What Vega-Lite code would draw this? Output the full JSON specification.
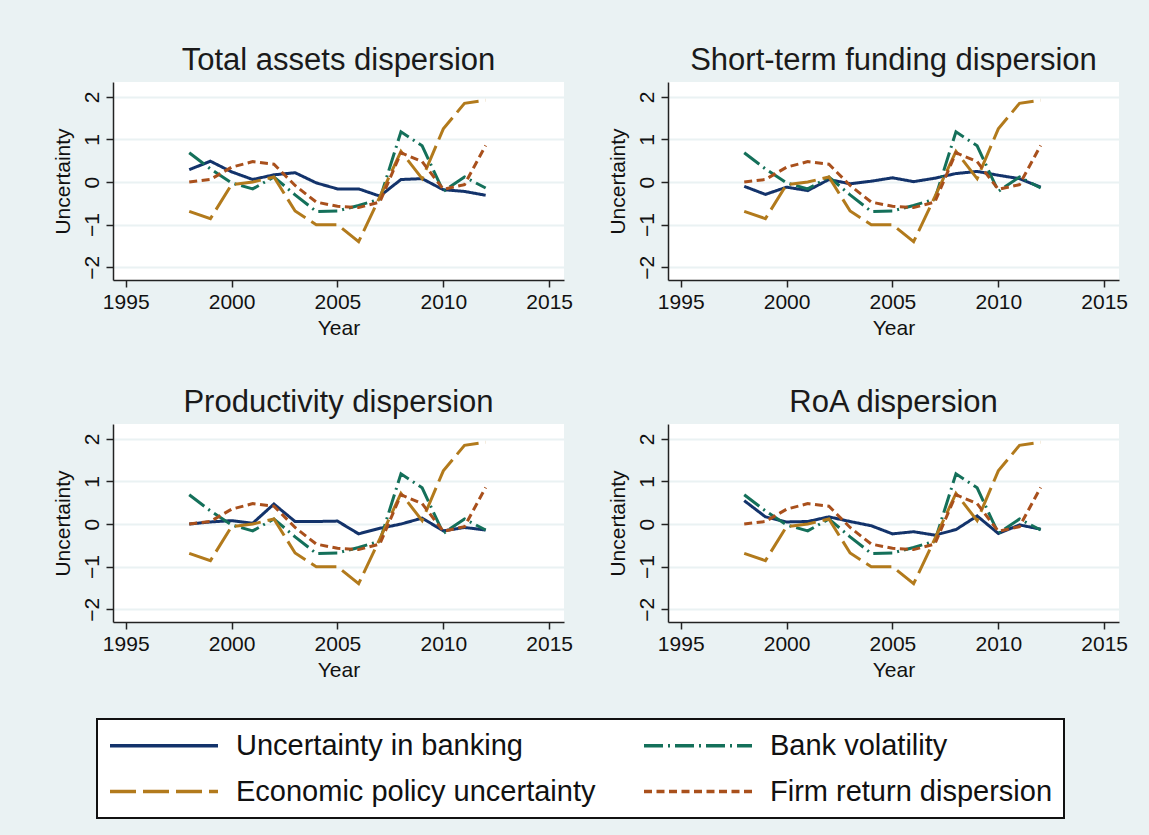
{
  "$schema": "https://vega.github.io/schema/vega-lite/v6.json",
  "padding": {"left": 52, "top": 45, "right": 30, "bottom": 22},
  "datasets": {
    "common": [
      {"series": "Bank volatility", "year": 1998, "value": 0.69},
      {"series": "Bank volatility", "year": 1999, "value": 0.31},
      {"series": "Bank volatility", "year": 2000, "value": -0.02},
      {"series": "Bank volatility", "year": 2001, "value": -0.16},
      {"series": "Bank volatility", "year": 2002, "value": 0.12},
      {"series": "Bank volatility", "year": 2003, "value": -0.3},
      {"series": "Bank volatility", "year": 2004, "value": -0.69},
      {"series": "Bank volatility", "year": 2005, "value": -0.68},
      {"series": "Bank volatility", "year": 2006, "value": -0.55},
      {"series": "Bank volatility", "year": 2007, "value": -0.4},
      {"series": "Bank volatility", "year": 2008, "value": 1.18},
      {"series": "Bank volatility", "year": 2009, "value": 0.85},
      {"series": "Bank volatility", "year": 2010, "value": -0.22},
      {"series": "Bank volatility", "year": 2011, "value": 0.12},
      {"series": "Bank volatility", "year": 2012, "value": -0.14},
      {"series": "Economic policy uncertainty", "year": 1998, "value": -0.69},
      {"series": "Economic policy uncertainty", "year": 1999, "value": -0.86},
      {"series": "Economic policy uncertainty", "year": 2000, "value": -0.06},
      {"series": "Economic policy uncertainty", "year": 2001, "value": 0.0},
      {"series": "Economic policy uncertainty", "year": 2002, "value": 0.12},
      {"series": "Economic policy uncertainty", "year": 2003, "value": -0.68},
      {"series": "Economic policy uncertainty", "year": 2004, "value": -1.0},
      {"series": "Economic policy uncertainty", "year": 2005, "value": -1.0},
      {"series": "Economic policy uncertainty", "year": 2006, "value": -1.4},
      {"series": "Economic policy uncertainty", "year": 2007, "value": -0.35},
      {"series": "Economic policy uncertainty", "year": 2008, "value": 0.72},
      {"series": "Economic policy uncertainty", "year": 2009, "value": 0.08},
      {"series": "Economic policy uncertainty", "year": 2010, "value": 1.25},
      {"series": "Economic policy uncertainty", "year": 2011, "value": 1.85},
      {"series": "Economic policy uncertainty", "year": 2012, "value": 1.92},
      {"series": "Firm return dispersion", "year": 1998, "value": 0.0},
      {"series": "Firm return dispersion", "year": 1999, "value": 0.06},
      {"series": "Firm return dispersion", "year": 2000, "value": 0.35},
      {"series": "Firm return dispersion", "year": 2001, "value": 0.48},
      {"series": "Firm return dispersion", "year": 2002, "value": 0.42},
      {"series": "Firm return dispersion", "year": 2003, "value": -0.08},
      {"series": "Firm return dispersion", "year": 2004, "value": -0.47},
      {"series": "Firm return dispersion", "year": 2005, "value": -0.57},
      {"series": "Firm return dispersion", "year": 2006, "value": -0.6},
      {"series": "Firm return dispersion", "year": 2007, "value": -0.47},
      {"series": "Firm return dispersion", "year": 2008, "value": 0.69},
      {"series": "Firm return dispersion", "year": 2009, "value": 0.48},
      {"series": "Firm return dispersion", "year": 2010, "value": -0.17},
      {"series": "Firm return dispersion", "year": 2011, "value": -0.06},
      {"series": "Firm return dispersion", "year": 2012, "value": 0.86}
    ],
    "banking": [
      {"panel": "TA", "series": "Uncertainty in banking", "year": 1998, "value": 0.29},
      {"panel": "TA", "series": "Uncertainty in banking", "year": 1999, "value": 0.49},
      {"panel": "TA", "series": "Uncertainty in banking", "year": 2000, "value": 0.24},
      {"panel": "TA", "series": "Uncertainty in banking", "year": 2001, "value": 0.06},
      {"panel": "TA", "series": "Uncertainty in banking", "year": 2002, "value": 0.17},
      {"panel": "TA", "series": "Uncertainty in banking", "year": 2003, "value": 0.22},
      {"panel": "TA", "series": "Uncertainty in banking", "year": 2004, "value": -0.02},
      {"panel": "TA", "series": "Uncertainty in banking", "year": 2005, "value": -0.16},
      {"panel": "TA", "series": "Uncertainty in banking", "year": 2006, "value": -0.16},
      {"panel": "TA", "series": "Uncertainty in banking", "year": 2007, "value": -0.33},
      {"panel": "TA", "series": "Uncertainty in banking", "year": 2008, "value": 0.06},
      {"panel": "TA", "series": "Uncertainty in banking", "year": 2009, "value": 0.08},
      {"panel": "TA", "series": "Uncertainty in banking", "year": 2010, "value": -0.18},
      {"panel": "TA", "series": "Uncertainty in banking", "year": 2011, "value": -0.22},
      {"panel": "TA", "series": "Uncertainty in banking", "year": 2012, "value": -0.31},
      {"panel": "STF", "series": "Uncertainty in banking", "year": 1998, "value": -0.1},
      {"panel": "STF", "series": "Uncertainty in banking", "year": 1999, "value": -0.29},
      {"panel": "STF", "series": "Uncertainty in banking", "year": 2000, "value": -0.12},
      {"panel": "STF", "series": "Uncertainty in banking", "year": 2001, "value": -0.2},
      {"panel": "STF", "series": "Uncertainty in banking", "year": 2002, "value": 0.06},
      {"panel": "STF", "series": "Uncertainty in banking", "year": 2003, "value": -0.04},
      {"panel": "STF", "series": "Uncertainty in banking", "year": 2004, "value": 0.02},
      {"panel": "STF", "series": "Uncertainty in banking", "year": 2005, "value": 0.1},
      {"panel": "STF", "series": "Uncertainty in banking", "year": 2006, "value": 0.01},
      {"panel": "STF", "series": "Uncertainty in banking", "year": 2007, "value": 0.09},
      {"panel": "STF", "series": "Uncertainty in banking", "year": 2008, "value": 0.2},
      {"panel": "STF", "series": "Uncertainty in banking", "year": 2009, "value": 0.25},
      {"panel": "STF", "series": "Uncertainty in banking", "year": 2010, "value": 0.16},
      {"panel": "STF", "series": "Uncertainty in banking", "year": 2011, "value": 0.08},
      {"panel": "STF", "series": "Uncertainty in banking", "year": 2012, "value": -0.12},
      {"panel": "PR", "series": "Uncertainty in banking", "year": 1998, "value": 0.0},
      {"panel": "PR", "series": "Uncertainty in banking", "year": 1999, "value": 0.05},
      {"panel": "PR", "series": "Uncertainty in banking", "year": 2000, "value": 0.08},
      {"panel": "PR", "series": "Uncertainty in banking", "year": 2001, "value": 0.02},
      {"panel": "PR", "series": "Uncertainty in banking", "year": 2002, "value": 0.47},
      {"panel": "PR", "series": "Uncertainty in banking", "year": 2003, "value": 0.06},
      {"panel": "PR", "series": "Uncertainty in banking", "year": 2004, "value": 0.06},
      {"panel": "PR", "series": "Uncertainty in banking", "year": 2005, "value": 0.07},
      {"panel": "PR", "series": "Uncertainty in banking", "year": 2006, "value": -0.23},
      {"panel": "PR", "series": "Uncertainty in banking", "year": 2007, "value": -0.1},
      {"panel": "PR", "series": "Uncertainty in banking", "year": 2008, "value": 0.0},
      {"panel": "PR", "series": "Uncertainty in banking", "year": 2009, "value": 0.14},
      {"panel": "PR", "series": "Uncertainty in banking", "year": 2010, "value": -0.16},
      {"panel": "PR", "series": "Uncertainty in banking", "year": 2011, "value": -0.08},
      {"panel": "PR", "series": "Uncertainty in banking", "year": 2012, "value": -0.14},
      {"panel": "ROA", "series": "Uncertainty in banking", "year": 1998, "value": 0.55},
      {"panel": "ROA", "series": "Uncertainty in banking", "year": 1999, "value": 0.17},
      {"panel": "ROA", "series": "Uncertainty in banking", "year": 2000, "value": 0.05},
      {"panel": "ROA", "series": "Uncertainty in banking", "year": 2001, "value": 0.06},
      {"panel": "ROA", "series": "Uncertainty in banking", "year": 2002, "value": 0.17},
      {"panel": "ROA", "series": "Uncertainty in banking", "year": 2003, "value": 0.06},
      {"panel": "ROA", "series": "Uncertainty in banking", "year": 2004, "value": -0.04},
      {"panel": "ROA", "series": "Uncertainty in banking", "year": 2005, "value": -0.23},
      {"panel": "ROA", "series": "Uncertainty in banking", "year": 2006, "value": -0.18},
      {"panel": "ROA", "series": "Uncertainty in banking", "year": 2007, "value": -0.26},
      {"panel": "ROA", "series": "Uncertainty in banking", "year": 2008, "value": -0.13},
      {"panel": "ROA", "series": "Uncertainty in banking", "year": 2009, "value": 0.19},
      {"panel": "ROA", "series": "Uncertainty in banking", "year": 2010, "value": -0.22},
      {"panel": "ROA", "series": "Uncertainty in banking", "year": 2011, "value": -0.02},
      {"panel": "ROA", "series": "Uncertainty in banking", "year": 2012, "value": -0.12}
    ]
  },
  "columns": 2,
  "spacing": {"column": 34, "row": 49},
  "concat": [
    {
      "title": "Total assets dispersion",
      "width": 451, "height": 198,
      "encoding": {
        "x": {"field": "year", "type": "quantitative", "title": "Year", "scale": {"domain": [1994.4, 2015.7], "nice": false, "zero": false}, "axis": {"values": [1995, 2000, 2005, 2010, 2015], "format": "d"}},
        "y": {"field": "value", "type": "quantitative", "title": "Uncertainty", "scale": {"domain": [-2.3, 2.35], "nice": false, "zero": false}, "axis": {"values": [-2, -1, 0, 1, 2]}},
        "color": {"field": "series", "type": "nominal", "scale": {"domain": ["Uncertainty in banking", "Bank volatility", "Economic policy uncertainty", "Firm return dispersion"], "range": ["#13336b", "#14705a", "#b27a1c", "#a9501c"]}, "legend": {"orient": "none", "direction": "horizontal", "legendX": -16, "legendY": 637}},
        "strokeDash": {"field": "series", "type": "nominal", "scale": {"domain": ["Uncertainty in banking", "Bank volatility", "Economic policy uncertainty", "Firm return dispersion"], "range": [[1, 0], [19, 5, 2, 5], [26, 7], [8, 4.5]]}, "legend": {"orient": "none", "direction": "horizontal", "legendX": -16, "legendY": 637}}
      },
      "layer": [
        {"data": {"name": "banking"}, "transform": [{"filter": "datum.panel === 'TA'"}], "mark": {"type": "line", "strokeWidth": 3}},
        {"data": {"name": "common"}, "mark": {"type": "line", "strokeWidth": 3}}
      ]
    },
    {
      "title": "Short-term funding dispersion",
      "width": 451, "height": 198,
      "encoding": {
        "x": {"field": "year", "type": "quantitative", "title": "Year", "scale": {"domain": [1994.4, 2015.7], "nice": false, "zero": false}, "axis": {"values": [1995, 2000, 2005, 2010, 2015], "format": "d"}},
        "y": {"field": "value", "type": "quantitative", "title": "Uncertainty", "scale": {"domain": [-2.3, 2.35], "nice": false, "zero": false}, "axis": {"values": [-2, -1, 0, 1, 2]}},
        "color": {"field": "series", "type": "nominal", "scale": {"domain": ["Uncertainty in banking", "Bank volatility", "Economic policy uncertainty", "Firm return dispersion"], "range": ["#13336b", "#14705a", "#b27a1c", "#a9501c"]}, "legend": {"orient": "none", "direction": "horizontal", "legendX": -16, "legendY": 637}},
        "strokeDash": {"field": "series", "type": "nominal", "scale": {"domain": ["Uncertainty in banking", "Bank volatility", "Economic policy uncertainty", "Firm return dispersion"], "range": [[1, 0], [19, 5, 2, 5], [26, 7], [8, 4.5]]}, "legend": {"orient": "none", "direction": "horizontal", "legendX": -16, "legendY": 637}}
      },
      "layer": [
        {"data": {"name": "banking"}, "transform": [{"filter": "datum.panel === 'STF'"}], "mark": {"type": "line", "strokeWidth": 3}},
        {"data": {"name": "common"}, "mark": {"type": "line", "strokeWidth": 3}}
      ]
    },
    {
      "title": "Productivity dispersion",
      "width": 451, "height": 198,
      "encoding": {
        "x": {"field": "year", "type": "quantitative", "title": "Year", "scale": {"domain": [1994.4, 2015.7], "nice": false, "zero": false}, "axis": {"values": [1995, 2000, 2005, 2010, 2015], "format": "d"}},
        "y": {"field": "value", "type": "quantitative", "title": "Uncertainty", "scale": {"domain": [-2.3, 2.35], "nice": false, "zero": false}, "axis": {"values": [-2, -1, 0, 1, 2]}},
        "color": {"field": "series", "type": "nominal", "scale": {"domain": ["Uncertainty in banking", "Bank volatility", "Economic policy uncertainty", "Firm return dispersion"], "range": ["#13336b", "#14705a", "#b27a1c", "#a9501c"]}, "legend": {"orient": "none", "direction": "horizontal", "legendX": -16, "legendY": 637}},
        "strokeDash": {"field": "series", "type": "nominal", "scale": {"domain": ["Uncertainty in banking", "Bank volatility", "Economic policy uncertainty", "Firm return dispersion"], "range": [[1, 0], [19, 5, 2, 5], [26, 7], [8, 4.5]]}, "legend": {"orient": "none", "direction": "horizontal", "legendX": -16, "legendY": 637}}
      },
      "layer": [
        {"data": {"name": "banking"}, "transform": [{"filter": "datum.panel === 'PR'"}], "mark": {"type": "line", "strokeWidth": 3}},
        {"data": {"name": "common"}, "mark": {"type": "line", "strokeWidth": 3}}
      ]
    },
    {
      "title": "RoA dispersion",
      "width": 451, "height": 198,
      "encoding": {
        "x": {"field": "year", "type": "quantitative", "title": "Year", "scale": {"domain": [1994.4, 2015.7], "nice": false, "zero": false}, "axis": {"values": [1995, 2000, 2005, 2010, 2015], "format": "d"}},
        "y": {"field": "value", "type": "quantitative", "title": "Uncertainty", "scale": {"domain": [-2.3, 2.35], "nice": false, "zero": false}, "axis": {"values": [-2, -1, 0, 1, 2]}},
        "color": {"field": "series", "type": "nominal", "scale": {"domain": ["Uncertainty in banking", "Bank volatility", "Economic policy uncertainty", "Firm return dispersion"], "range": ["#13336b", "#14705a", "#b27a1c", "#a9501c"]}, "legend": {"orient": "none", "direction": "horizontal", "legendX": -16, "legendY": 637}},
        "strokeDash": {"field": "series", "type": "nominal", "scale": {"domain": ["Uncertainty in banking", "Bank volatility", "Economic policy uncertainty", "Firm return dispersion"], "range": [[1, 0], [19, 5, 2, 5], [26, 7], [8, 4.5]]}, "legend": {"orient": "none", "direction": "horizontal", "legendX": -16, "legendY": 637}}
      },
      "layer": [
        {"data": {"name": "banking"}, "transform": [{"filter": "datum.panel === 'ROA'"}], "mark": {"type": "line", "strokeWidth": 3}},
        {"data": {"name": "common"}, "mark": {"type": "line", "strokeWidth": 3}}
      ]
    }
  ],
  "resolve": {"scale": {"color": "shared", "strokeDash": "shared"}},
  "config": {
    "background": "#eaf2f3",
    "font": "Liberation Sans",
    "view": {"fill": "white", "stroke": null},
    "axis": {"domainColor": "#222", "domainWidth": 1.5, "tickColor": "#222", "tickWidth": 1.5, "tickSize": 7, "labelFontSize": 21, "titleFontSize": 21, "titleFontWeight": "normal", "labelColor": "#111", "titleColor": "#111", "grid": false, "labelFlush": false, "labelOverlap": false},
    "axisY": {"grid": true, "gridColor": "#eaf2f3", "gridWidth": 2, "labelAngle": -90, "labelPadding": 4, "titlePadding": 8},
    "axisX": {"labelPadding": 4, "titlePadding": 5},
    "title": {"fontSize": 31, "fontWeight": "normal", "color": "#1a1a1a", "offset": 5, "anchor": "middle"},
    "legend": {"title": null, "columns": 2, "symbolType": "M-1,0H7", "symbolSize": 729, "symbolStrokeWidth": 3.5, "labelFontSize": 29, "labelColor": "#111", "labelOffset": 97, "columnPadding": 41, "rowPadding": 15, "padding": 11, "strokeColor": "#111", "strokeWidth": 2, "fillColor": "white", "labelLimit": 0}
  }
}
